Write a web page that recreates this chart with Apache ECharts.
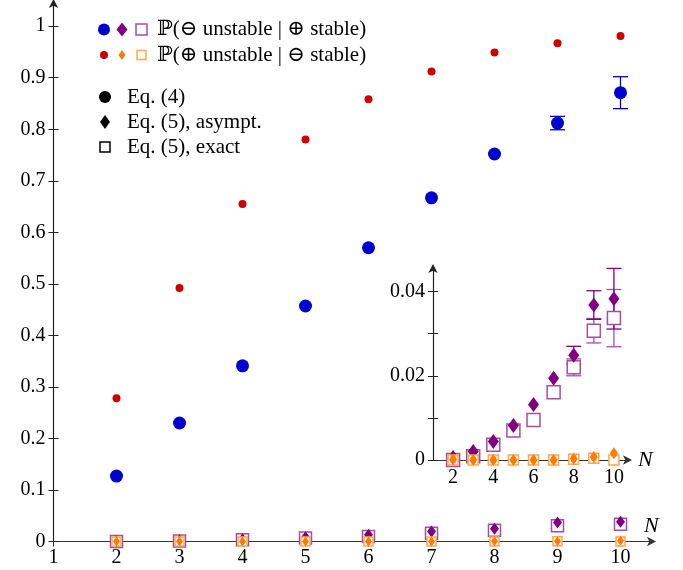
<!DOCTYPE html>
<html>
<head>
<meta charset="utf-8">
<script src="https://cdn.jsdelivr.net/npm/echarts@6/dist/echarts.min.js"></script>
<style>
html, body { margin: 0; padding: 0; background: #fff; }
#chart { width: 683px; height: 570px; }
</style>
</head>
<body>
<div id="chart"></div>
<script>
// system sizes
var sizes = [2, 3, 4, 5, 6, 7, 8, 9, 10];

// Eq. (4)
var minusUnstable = [0.127, 0.230, 0.341, 0.457, 0.570, 0.667, 0.752, 0.812, 0.871];
var minusUnstableErr = [0, 0, 0, 0, 0, 0, 0, 0.013, 0.031];
var plusUnstable = [0.278, 0.492, 0.655, 0.780, 0.858, 0.912, 0.949, 0.967, 0.981];

// Eq. (5), asymptotic and exact
var minusAsym = [0.0006, 0.0020, 0.0044, 0.0082, 0.0132, 0.0194, 0.0249, 0.0368, 0.0383];
var minusAsymErr = [0, 0, 0, 0, 0, 0, 0.0021, 0.0034, 0.0072];
var minusExact = [0, 0.0009, 0.0036, 0.0070, 0.0095, 0.0161, 0.0220, 0.0307, 0.0337];
var minusExactErr = [0, 0, 0, 0, 0, 0, 0.0020, 0.0029, 0.0068];
var plusAsym = [0.0001, 0, 0, 0, 0, 0, 0.0003, 0.0007, 0.0016];
var plusAsymErr = [0.0006, 0.0006, 0.0006, 0.0006, 0.0006, 0.0006, 0.0006, 0.0006, 0.0006];
var plusExact = [0, 0, 0, 0, 0, 0, 0.0002, 0.0004, 0];

// tick labels
var mainXTicks = [1, 2, 3, 4, 5, 6, 7, 8, 9, 10];
var mainYTicks = [0, 0.1, 0.2, 0.3, 0.4, 0.5, 0.6, 0.7, 0.8, 0.9, 1];
var insetXTicks = [2, 4, 6, 8, 10];
var insetYTicks = [0, 0.01, 0.02, 0.03, 0.04];
var insetYLabels = [0, 0.02, 0.04];

var FONT = '"Liberation Serif", "DejaVu Serif", serif';
var BLUE = '#0000cc', RED = '#cc0000', PURPLE = '#800080', PURPLE_L = '#a64da6',
    ORANGE = '#ff7a00', ORANGE_L = '#ffa64d';

function pts(vals) {
  return sizes.map(function (n, i) { return [n, vals[i]]; });
}
function errPts(vals, errs) {
  return sizes.map(function (n, i) { return [n, vals[i], errs[i]]; });
}
function fmt(v) { return String(+v.toFixed(3)); }

// error bars drawn from the axis scales
function errorBars(data, color, xi, yi, cap, z) {
  return {
    type: 'custom',
    xAxisIndex: xi, yAxisIndex: yi,
    data: data,
    encode: { x: 0, y: 1 },
    silent: true,
    z: z || 2,
    renderItem: function (params, api) {
      var x = api.value(0), y = api.value(1), e = api.value(2);
      if (!e) return null;
      var hi = api.coord([x, y + e]), lo = api.coord([x, y - e]);
      var st = { stroke: color, lineWidth: 1.3 };
      return {
        type: 'group',
        children: [
          { type: 'line', shape: { x1: hi[0], y1: hi[1], x2: lo[0], y2: lo[1] }, style: st },
          { type: 'line', shape: { x1: hi[0] - cap, y1: hi[1], x2: hi[0] + cap, y2: hi[1] }, style: st },
          { type: 'line', shape: { x1: lo[0] - cap, y1: lo[1], x2: lo[0] + cap, y2: lo[1] }, style: st }
        ]
      };
    }
  };
}

function scatter(data, xi, yi, symbol, size, fill, border, z) {
  return {
    type: 'scatter',
    xAxisIndex: xi, yAxisIndex: yi,
    data: data,
    symbol: symbol,
    symbolSize: size,
    z: z,
    itemStyle: { color: fill, borderColor: border || fill, borderWidth: border ? 1.5 : 0, opacity: 1 },
    emphasis: { disabled: true },
    animation: false
  };
}

// one axis with labels + outward ticks, a twin with inward ticks => ticks crossing the line
function xAxes(grid, min, max, ticks, labelMargin) {
  return [{
    gridIndex: grid, type: 'value', min: min, max: max,
    axisLine: { show: true, onZero: false, symbol: ['none', 'arrow'], symbolSize: [7, 9], symbolOffset: [0, 4],
      lineStyle: { color: '#333', width: 1.2 } },
    axisTick: { show: true, length: 5, customValues: ticks, lineStyle: { color: '#333' } },
    axisLabel: { customValues: ticks, fontFamily: FONT, fontSize: 20, color: '#000', margin: labelMargin },
    splitLine: { show: false }
  }, {
    gridIndex: grid, type: 'value', min: min, max: max, position: 'bottom',
    axisLine: { show: false },
    axisTick: { show: true, inside: true, length: 5, customValues: ticks, lineStyle: { color: '#333' } },
    axisLabel: { show: false },
    splitLine: { show: false }
  }];
}
function yAxes(grid, min, max, ticks, labels, labelMargin) {
  return [{
    gridIndex: grid, type: 'value', min: min, max: max,
    axisLine: { show: true, onZero: false, symbol: ['none', 'arrow'], symbolSize: [7, 9], symbolOffset: [0, 4],
      lineStyle: { color: '#222', width: 1.2 } },
    axisTick: { show: true, length: 5, customValues: ticks, lineStyle: { color: '#222' } },
    axisLabel: { customValues: labels, formatter: fmt, fontFamily: FONT, fontSize: 20, color: '#000', margin: labelMargin },
    splitLine: { show: false }
  }, {
    gridIndex: grid, type: 'value', min: min, max: max, position: 'left',
    axisLine: { show: false },
    axisTick: { show: true, inside: true, length: 5, customValues: ticks, lineStyle: { color: '#222' } },
    axisLabel: { show: false },
    splitLine: { show: false }
  }];
}

// legend pieces
function circ(cx, cy, r, c) { return { type: 'circle', shape: { cx: cx, cy: cy, r: r }, style: { fill: c } }; }
function diam(cx, cy, w, h, c) {
  return { type: 'polygon', shape: { points: [[cx, cy - h / 2], [cx + w / 2, cy], [cx, cy + h / 2], [cx - w / 2, cy]] }, style: { fill: c } };
}
function sq(cx, cy, s, c) {
  return { type: 'rect', shape: { x: cx - s / 2, y: cy - s / 2, width: s, height: s }, style: { fill: '#fff', stroke: c, lineWidth: 1.5 } };
}
function txt(x, y, t, extra) {
  var style = { text: t, x: x, y: y, fill: '#000', font: '21px ' + FONT, verticalAlign: 'middle' };
  for (var k in extra) style[k] = extra[k];
  return { type: 'text', style: style };
}

var chart = echarts.init(document.getElementById('chart'), null, { renderer: 'canvas' });

var option = {
  backgroundColor: '#fff',
  animation: false,
  grid: [
    { left: 53.5, right: 31, top: 3, bottom: 28.5 },
    { left: 433, right: 55, top: 268, bottom: 110 }
  ],
  xAxis: xAxes(0, 1, 10.5, mainXTicks, 6).concat(xAxes(1, 1, 10.7, insetXTicks, 8)),
  yAxis: yAxes(0, 0, 1.045, mainYTicks, mainYTicks, 8).concat(yAxes(1, 0, 0.0456, insetYTicks, insetYLabels, 8)),
  series: [
    // main plot
    errorBars(errPts(minusUnstable, minusUnstableErr), BLUE, 0, 0, 7.5),
    scatter(pts(minusUnstable), 0, 0, 'circle', 13, BLUE, null, 3),
    scatter(pts(plusUnstable), 0, 0, 'circle', 8, RED, null, 3),
    scatter(pts(minusExact), 0, 0, 'rect', 12, '#fff', PURPLE_L, 3),
    scatter(pts(minusAsym), 0, 0, 'diamond', [9, 12], PURPLE, null, 4),
    scatter(pts(plusExact), 0, 0, 'rect', 9, '#fff', ORANGE_L, 5),
    scatter(pts(plusAsym), 0, 0, 'diamond', [7, 10], ORANGE, null, 6),
    // inset
    errorBars(errPts(minusExact, minusExactErr), PURPLE_L, 2, 2, 7.5),
    errorBars(errPts(minusAsym, minusAsymErr), PURPLE, 2, 2, 7.5),
    scatter(pts(minusExact), 2, 2, 'rect', 13, '#fff', PURPLE_L, 3),
    scatter(pts(minusAsym), 2, 2, 'diamond', [11, 15], PURPLE, null, 4),
    scatter(pts(plusExact), 2, 2, 'rect', 10, '#fff', ORANGE_L, 5),
    errorBars(errPts(plusAsym, plusAsymErr), ORANGE, 2, 2, 2.5, 6),
    scatter(pts(plusAsym), 2, 2, 'diamond', [8, 12], ORANGE, null, 7)
  ],
  graphic: [
    circ(104, 29.5, 6, BLUE), diam(122, 29.5, 11, 14, PURPLE), sq(141.5, 29.5, 11, PURPLE_L),
    txt(157, 29.5, '\u2119(\u2296 unstable | \u2295 stable)'),
    circ(104, 55, 4, RED), diam(122, 55, 7, 10, ORANGE), sq(141.5, 55, 9, ORANGE_L),
    txt(157, 55, '\u2119(\u2295 unstable | \u2296 stable)'),
    circ(105, 97, 6, '#000'), txt(127, 97, 'Eq. (4)'),
    diam(105, 122, 10, 14, '#000'), txt(127, 122, 'Eq. (5), asympt.'),
    sq(105, 147, 10, '#000'), txt(127, 147, 'Eq. (5), exact'),
    txt(644, 526, 'N', { font: 'italic 22px ' + FONT }),
    txt(638, 460, 'N', { font: 'italic 22px ' + FONT })
  ]
};
chart.setOption(option);
</script>
</body>
</html>
